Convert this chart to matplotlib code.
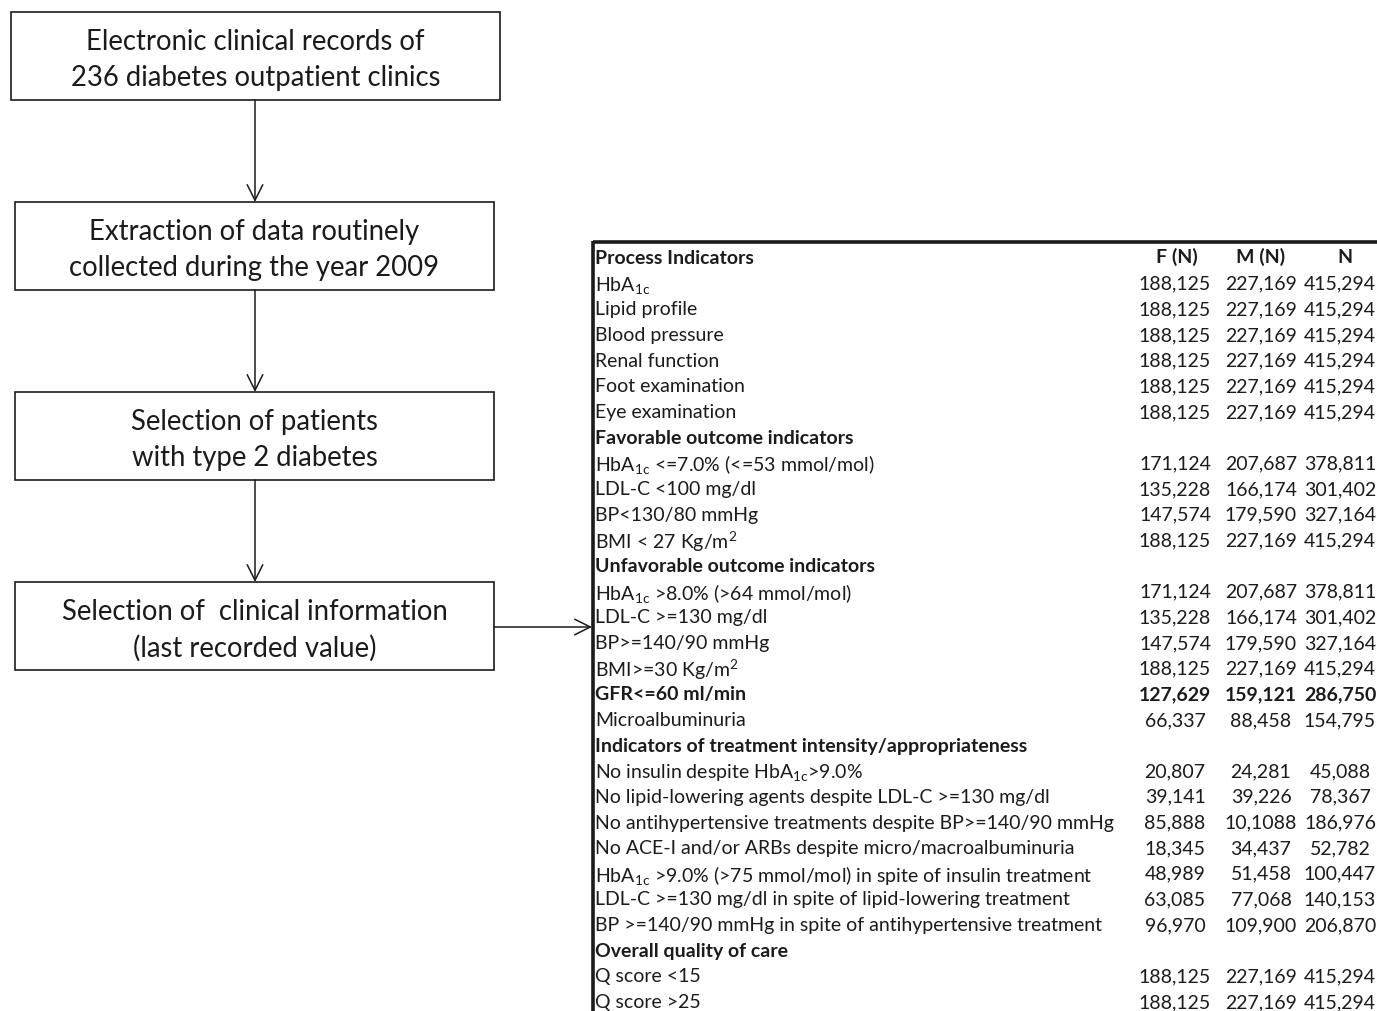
import matplotlib.pyplot as plt

plt.rcParams['font.family'] = ['Lato', 'DejaVu Sans']

# flowchart boxes (text only), top to bottom
box_text = ["Electronic clinical records of\n236 diabetes outpatient clinics",
            "Extraction of data routinely\ncollected during the year 2009",
            "Selection of patients\nwith type 2 diabetes",
            "Selection of  clinical information\n(last recorded value)"]

# table
col_heads = ["F (N)", "M (N)", "N"]
row_labels = ["Process Indicators",
              r"HbA$\mathregular{_{1c}}$",
              "Lipid profile",
              "Blood pressure",
              "Renal function",
              "Foot examination",
              "Eye examination",
              "Favorable outcome indicators",
              r"HbA$\mathregular{_{1c}}$ <=7.0% (<=53 mmol/mol)",
              "LDL-C <100 mg/dl",
              "BP<130/80 mmHg",
              r"BMI < 27 Kg/m$\mathregular{^2}$",
              "Unfavorable outcome indicators",
              r"HbA$\mathregular{_{1c}}$ >8.0% (>64 mmol/mol)",
              "LDL-C >=130 mg/dl",
              "BP>=140/90 mmHg",
              r"BMI>=30 Kg/m$\mathregular{^2}$",
              "GFR<=60 ml/min",
              "Microalbuminuria",
              "Indicators of treatment intensity/appropriateness",
              r"No insulin despite HbA$\mathregular{_{1c}}$>9.0%",
              "No lipid-lowering agents despite LDL-C >=130 mg/dl",
              "No antihypertensive treatments despite BP>=140/90 mmHg",
              "No ACE-I and/or ARBs despite micro/macroalbuminuria",
              r"HbA$\mathregular{_{1c}}$ >9.0% (>75 mmol/mol) in spite of insulin treatment",
              "LDL-C >=130 mg/dl in spite of lipid-lowering treatment",
              "BP >=140/90 mmHg in spite of antihypertensive treatment",
              "Overall quality of care",
              "Q score <15",
              "Q score >25"]
bold_rows = [0, 7, 12, 17, 19, 27]

f_n = ["", "188,125", "188,125", "188,125", "188,125", "188,125", "188,125",
       "", "171,124", "135,228", "147,574", "188,125",
       "", "171,124", "135,228", "147,574", "188,125", "127,629", "66,337",
       "", "20,807", "39,141", "85,888", "18,345", "48,989", "63,085", "96,970",
       "", "188,125", "188,125"]
m_n = ["", "227,169", "227,169", "227,169", "227,169", "227,169", "227,169",
       "", "207,687", "166,174", "179,590", "227,169",
       "", "207,687", "166,174", "179,590", "227,169", "159,121", "88,458",
       "", "24,281", "39,226", "10,1088", "34,437", "51,458", "77,068", "109,900",
       "", "227,169", "227,169"]
n_all = ["", "415,294", "415,294", "415,294", "415,294", "415,294", "415,294",
         "", "378,811", "301,402", "327,164", "415,294",
         "", "378,811", "301,402", "327,164", "415,294", "286,750", "154,795",
         "", "45,088", "78,367", "186,976", "52,782", "100,447", "140,153", "206,870",
         "", "415,294", "415,294"]

fig = plt.figure(figsize=(13.77, 10.12), dpi=100)
ax = fig.add_axes([0, 0, 1, 1])
ax.set_xlim(0, 1377)
ax.set_ylim(1012, 0)
ax.axis('off')

ink = '#1c1a1b'

# boxes
boxes = [(11, 13, 489, 88), (15, 203, 479, 88), (15, 393, 479, 88), (15, 583, 479, 88)]
for (x0, y0, w, h), txt in zip(boxes, box_text):
    ax.add_patch(plt.Rectangle((x0, y0), w, h, fill=False, ec=ink, lw=1.2))
    ax.text(x0 + w / 2, y0 + h / 2 + 3, txt, ha='center', va='center',
            fontsize=19.8, color=ink, linespacing=1.45)

# vertical arrows between boxes
for i in range(len(boxes) - 1):
    y_from = boxes[i][1] + boxes[i][3]
    y_to = boxes[i + 1][1]
    ax.annotate("", xy=(255, y_to), xytext=(255, y_from),
                arrowprops=dict(arrowstyle='->', lw=1.1, color=ink,
                                mutation_scale=28, shrinkA=0, shrinkB=0))

# arrow to table
ax.annotate("", xy=(592, 628), xytext=(494, 628),
            arrowprops=dict(arrowstyle='->', lw=1.1, color=ink,
                            mutation_scale=28, shrinkA=0, shrinkB=0))

# table frame (top and left lines)
ax.plot([593, 1377], [243, 243], color=ink, lw=2.6, solid_capstyle='butt')
ax.plot([593, 593], [242, 1012], color=ink, lw=2.6, solid_capstyle='butt')

y0 = 257
dy = 25.66
col_x = [1175, 1261, 1340]
head_x = [1177, 1261, 1345]
fs = 14
for hx, h in zip(head_x, col_heads):
    ax.text(hx, y0, h, ha='center', va='center', fontsize=fs,
            fontweight='bold', color=ink)

for i, lab in enumerate(row_labels):
    y = y0 + i * dy
    wt = 'bold' if i in bold_rows else 'normal'
    ax.text(595, y, lab, ha='left', va='center_baseline', fontsize=fs,
            fontweight=wt, color=ink)
    for cx, vals in zip(col_x, [f_n, m_n, n_all]):
        if vals[i]:
            ax.text(cx, y, vals[i], ha='center', va='center_baseline',
                    fontsize=fs, fontweight=wt, color=ink)

fig.savefig("out.png", dpi=100)
